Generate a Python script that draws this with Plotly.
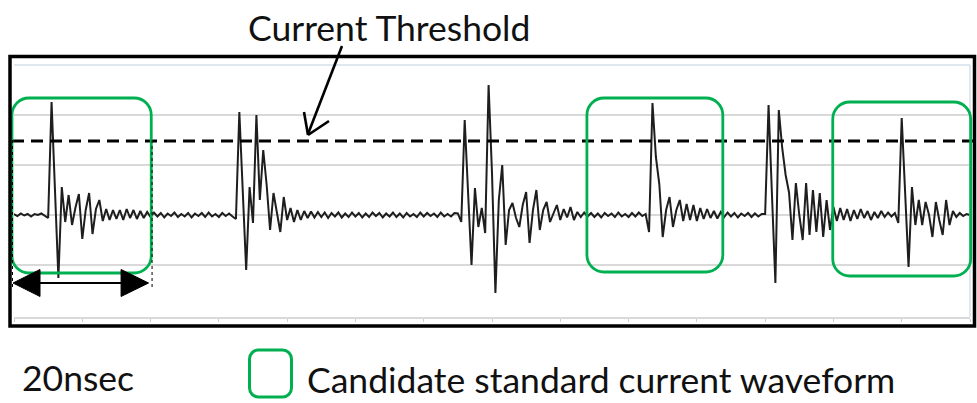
import numpy as np
import plotly.graph_objects as go

# ---------------------------------------------------------------- data
# Sampled current trace, one value every SAMPLE_NS nanoseconds (arbitrary units,
# baseline at 0). Stored as consecutive record segments.
SAMPLE_NS = 0.5

quiet_start = [0.02, -0.02, 0.03, -0.01, 0.02, -0.03, 0.02, 0.00, 0.03, -0.02, -0.06]
burst_1 = [2.26, 0.50, -1.26, 0.56, -0.14, 0.40, -0.20, 0.15, 0.42, -0.48,
           0.10, 0.44, -0.38, 0.12, 0.30, -0.12, 0.12, -0.10, 0.10, -0.08,
           0.10, -0.10, 0.12, -0.06, 0.10, -0.08, 0.08, -0.06, 0.06]
quiet_1 = [-0.04, 0.05, -0.03, 0.04, -0.05, 0.03, -0.02, 0.05, -0.04, 0.02,
           -0.03, 0.04, -0.05, 0.03, -0.02, 0.04, -0.04, 0.05, -0.03, 0.02,
           -0.04, 0.04, -0.02, 0.03, -0.03]
burst_2 = [-0.08, 2.06, 0.50, -1.10, 0.56, -0.16, 2.00, 0.30, 1.30, 0.60,
           -0.30, 0.44, 0.05, -0.34, 0.36, -0.10, 0.14, -0.14, 0.10, -0.10,
           0.08, -0.06]
quiet_2 = [0.07, -0.05, 0.06, -0.04, 0.05, -0.06, 0.04, -0.03, 0.05, -0.05,
           0.03, -0.04, 0.05, -0.03, 0.04, -0.05, 0.03, -0.04, 0.05, -0.02,
           0.04, -0.05, 0.03, -0.03, 0.05, -0.04, 0.03, -0.05, 0.04, -0.03,
           0.02, -0.04, 0.05, -0.03, 0.04, -0.02, 0.03, -0.04, 0.05, -0.03,
           0.02, -0.03, 0.04]
burst_3 = [0.03, -0.14, 1.90, 0.44, -1.00, 0.54, -0.24, 0.14, -0.36, 2.60,
           0.84, -1.56, 0.30, 1.00, -0.60, 0.10, 0.24, -0.05, -0.24, 0.20,
           0.46, -0.56, 0.10, 0.50, -0.30, 0.10, 0.26, -0.14, 0.05, 0.20,
           -0.10, 0.12, -0.05, 0.16, -0.10, 0.06,
           -0.04, 0.05, -0.03, 0.04, -0.04, 0.03, -0.05, 0.04, -0.02, 0.03,
           -0.04, 0.05, -0.03, 0.02, -0.04, 0.04, -0.03, 0.05, -0.02]
burst_4 = [0.02, -0.34, 2.24, 1.16, 0.62, -0.44, 0.10, 0.36, -0.24, 0.10,
           0.30, -0.12, 0.22, -0.10, 0.20, -0.12, 0.14, -0.08, 0.12, -0.06,
           0.08, -0.07, 0.06,
           -0.04, 0.05, -0.03, 0.04, -0.05, 0.03, -0.02, 0.04, -0.04, 0.03,
           -0.03, 0.02]
burst_5 = [0.02, 2.20, 0.40, -1.36, 2.10, 1.34, 0.80, 0.45, -0.50, 0.64,
           0.00, -0.50, 0.64, -0.40, 0.50, -0.34, 0.44, -0.44, 0.30, -0.30,
           0.16, -0.12, 0.14, -0.10, 0.12, -0.12, 0.10, -0.08, 0.12, -0.06,
           0.08, -0.10, 0.06, -0.06, 0.08, -0.04, 0.05, -0.03]
burst_6 = [0.04, -0.16, 1.94, 0.50, -1.04, 0.56, -0.20, 0.30, -0.20, 0.26,
           0.00, -0.44, 0.26, -0.10, -0.40, 0.30, -0.20, 0.08, -0.04, 0.04,
           -0.02, 0.02, 0.00]

segments = [quiet_start, burst_1, quiet_1, burst_2, quiet_2,
            burst_3, burst_4, burst_5, burst_6]
current = np.concatenate([np.asarray(s, dtype=float) for s in segments])
time_ns = np.arange(current.size) * SAMPLE_NS

THRESHOLD = 1.48
# time windows (ns) and current span of the candidate standard waveforms
CANDIDATE_WINDOWS = [(-0.3, 20.1, -1.16, 2.34),
                     (83.9, 103.8, -1.14, 2.34),
                     (119.9, 140.1, -1.22, 2.26)]
SPAN_NS = (0.0, 20.0)

X_RANGE = (0.0, 140.0)
Y_RANGE = (-2.04, 3.0)

# ---------------------------------------------------------------- geometry
W, H = 977, 403
M = dict(l=14, r=7, t=65, b=86)
PW = W - M["l"] - M["r"]
PH = H - M["t"] - M["b"]

GREEN = "#00b050"
FONT = "Lato, 'Open Sans', sans-serif"


def px_paper(x, y):
    """pixel position on the page -> paper coordinates"""
    return (x - M["l"]) / PW, (H - M["b"] - y) / PH


def data_px(t, v):
    x = M["l"] + (t - X_RANGE[0]) / (X_RANGE[1] - X_RANGE[0]) * PW
    y = H - M["b"] - (v - Y_RANGE[0]) / (Y_RANGE[1] - Y_RANGE[0]) * PH
    return x, y


def path_paper(cmds):
    """cmds: list of (letter, [(x,y), ...]) in pixels -> SVG path in paper units"""
    out = []
    for c, pts in cmds:
        s = c
        for (x, y) in pts:
            px, py = px_paper(x, y)
            s += f" {px:.5f},{py:.5f}"
        out.append(s)
    return " ".join(out) + " Z"


def rounded_rect(x0, y0, x1, y1, r):
    k = 0.5523 * r
    cmds = [
        ("M", [(x0 + r, y0)]),
        ("L", [(x1 - r, y0)]),
        ("C", [(x1 - r + k, y0), (x1, y0 + r - k), (x1, y0 + r)]),
        ("L", [(x1, y1 - r)]),
        ("C", [(x1, y1 - r + k), (x1 - r + k, y1), (x1 - r, y1)]),
        ("L", [(x0 + r, y1)]),
        ("C", [(x0 + r - k, y1), (x0, y1 - r + k), (x0, y1 - r)]),
        ("L", [(x0, y0 + r)]),
        ("C", [(x0, y0 + r - k), (x0 + r - k, y0), (x0 + r, y0)]),
    ]
    return path_paper(cmds)


def seg(x0, y0, x1, y1, color="black", width=1.5, dash="solid"):
    a = px_paper(x0, y0)
    b = px_paper(x1, y1)
    return dict(type="line", xref="paper", yref="paper", x0=a[0], y0=a[1],
                x1=b[0], y1=b[1], line=dict(color=color, width=width, dash=dash))


# ---------------------------------------------------------------- figure
fig = go.Figure()
fig.add_trace(go.Scatter(x=time_ns, y=current, mode="lines",
                         line=dict(color="#1e1e1e", width=2.0),
                         hoverinfo="skip", showlegend=False))

shapes = []
# light plot-area frame (top and right)
shapes.append(seg(M["l"], M["t"], W - M["r"], M["t"], color="#d5dfec", width=1.5))
shapes.append(seg(W - M["r"], M["t"], W - M["r"], H - M["b"], color="#d5dfec", width=1.5))

# threshold
thr_y = data_px(0, THRESHOLD)[1]
shapes.append(seg(12, thr_y, 975, thr_y, width=3, dash="12px,7px"))

# candidate windows
for t0, t1, v0, v1 in CANDIDATE_WINDOWS:
    xa, ya = data_px(t0, v1)
    xb, yb = data_px(t1, v0)
    shapes.append(dict(type="path", xref="paper", yref="paper",
                       path=rounded_rect(xa, ya, xb, yb, 17),
                       line=dict(color=GREEN, width=2.8)))

# 20 ns span marker
sx0 = data_px(SPAN_NS[0], 0)[0] - 1.5
sx1 = data_px(SPAN_NS[1], 0)[0] + 1.5
shapes.append(seg(sx0, 140, sx0, 289, width=1, dash="dot"))
shapes.append(seg(sx1, 140, sx1, 289, width=1, dash="dot"))
ay = 283
shapes.append(seg(sx0 + 20, ay, sx1 - 20, ay, width=1.8))
for tip, base in ((sx0 + 0.5, sx0 + 27.5), (sx1 - 3.5, sx1 - 31)):
    shapes.append(dict(type="path", xref="paper", yref="paper",
                       path=path_paper([("M", [(tip, ay)]), ("L", [(base, ay - 13.5)]),
                                        ("L", [(base, ay + 13.5)])]),
                       fillcolor="black", line=dict(color="black", width=1)))

# arrow pointing at the threshold
shapes.append(seg(342, 46, 308, 134, width=2.6))
shapes.append(seg(304, 112, 308, 135, width=2.6))
shapes.append(seg(329, 121, 308, 135, width=2.6))

# outer frame
shapes.append(dict(type="rect", xref="paper", yref="paper",
                   x0=px_paper(10, 0)[0], x1=px_paper(974.5, 0)[0],
                   y0=px_paper(0, 326)[1], y1=px_paper(0, 56.5)[1],
                   line=dict(color="black", width=3.5)))

# legend swatch
shapes.append(dict(type="path", xref="paper", yref="paper",
                   path=rounded_rect(249.5, 350, 291.5, 397, 9),
                   line=dict(color=GREEN, width=3)))

annotations = []
for text, x, y in (("Current Threshold", 246, 27),
                   ("20nsec", 20, 377),
                   ("Candidate standard current waveform", 305, 379)):
    px, py = px_paper(x, y)
    annotations.append(dict(text=text, x=px, y=py, xref="paper", yref="paper",
                            xanchor="left", yanchor="middle", showarrow=False,
                            font=dict(family=FONT, size=35.5, color="#111111")))

fig.update_layout(
    width=W, height=H, margin=M,
    paper_bgcolor="white", plot_bgcolor="white",
    shapes=shapes, annotations=annotations, showlegend=False,
    xaxis=dict(range=list(X_RANGE), showgrid=False, zeroline=False,
               showline=True, linecolor="#d9d9d9", linewidth=1.5,
               ticks="outside", ticklen=3, tickcolor="#cfcfcf", dtick=10,
               showticklabels=False, fixedrange=True),
    yaxis=dict(range=list(Y_RANGE), showgrid=True, gridcolor="#d9d9d9",
               gridwidth=1.5, tickvals=[-1, 0, 1, 2], showticklabels=False,
               zeroline=False, showline=False, ticks="", fixedrange=True),
)

fig.write_html("out.html")
